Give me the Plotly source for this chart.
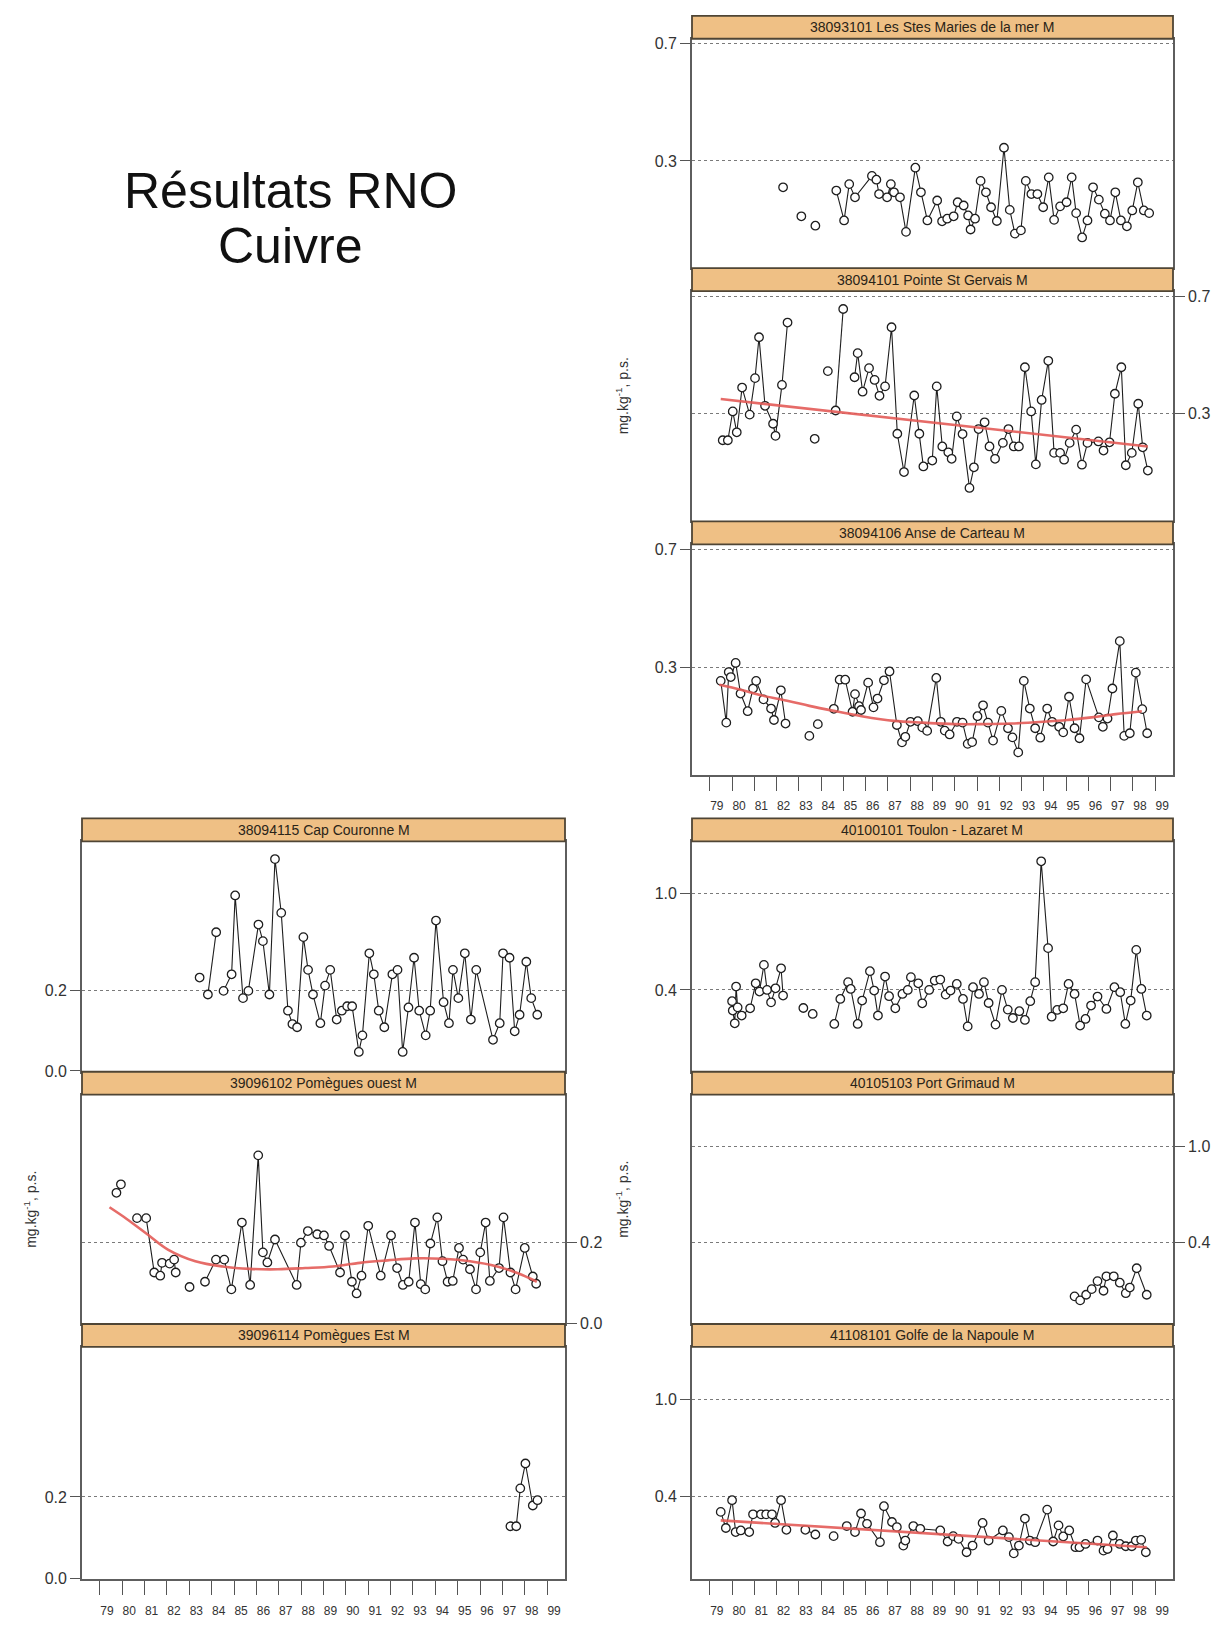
import plotly.graph_objects as go

W, H = 1226, 1628
FONT = "Liberation Sans, Arial, sans-serif"

# ---------------------------------------------------------------- axes data
YEAR_TICKS = list(range(79, 100))
YEAR_LABELS = [str(y) for y in YEAR_TICKS]
X_RANGE = [78.2, 99.8]

# Copper in mussels (mg.kg-1 dry weight); None marks a break in the series
stes_maries_years = [82.29, None, 83.11, None, 83.74, None,
                     84.68, 85.03, 85.26, 85.52, 86.28, 86.48, 86.60, 86.96, 87.13, 87.27,
                     87.54, 87.81, 88.23, 88.48, 88.77, 89.21, 89.43, 89.66, 89.95, 90.13,
                     90.40, 90.60, 90.71, 90.91, 91.16, 91.40, 91.63, 91.89, 92.21, 92.47,
                     92.70, 92.97, 93.19, 93.44, 93.71, 93.97, 94.22, 94.46, 94.73, 95.02,
                     95.25, 95.45, 95.72, 95.96, 96.21, 96.47, 96.74, 96.97, 97.21, 97.46,
                     97.73, 97.97, 98.22, 98.49, 98.73]
stes_maries_cu = [0.210, None, 0.111, None, 0.079, None,
                  0.199, 0.097, 0.221, 0.176, 0.249, 0.236, 0.187, 0.176, 0.221, 0.193,
                  0.176, 0.058, 0.277, 0.193, 0.097, 0.165, 0.094, 0.103, 0.111, 0.159,
                  0.148, 0.114, 0.066, 0.103, 0.232, 0.193, 0.142, 0.095, 0.345, 0.133,
                  0.052, 0.063, 0.232, 0.187, 0.187, 0.142, 0.244, 0.099, 0.145, 0.159,
                  0.244, 0.122, 0.039, 0.097, 0.210, 0.168, 0.120, 0.097, 0.193, 0.097,
                  0.077, 0.131, 0.227, 0.131, 0.122]

gervais_years = [79.58, 79.81, 80.03, 80.21, 80.45, 80.79, 81.03, 81.21, 81.48, 81.84,
                 81.95, 82.24, 82.49, None, 83.71, None, 84.30, None, 84.65, 84.99, None,
                 85.50, 85.64, 85.86, 86.15, 86.40, 86.62, 86.87, 87.16, 87.42, 87.72,
                 88.18, 88.41, 88.59, 88.99, 89.19, 89.44, 89.71, 89.86, 90.09, 90.35,
                 90.66, 90.86, 91.07, 91.34, 91.56, 91.81, 92.16, 92.41, 92.65, 92.88,
                 93.15, 93.43, 93.64, 93.90, 94.20, 94.46, 94.73, 94.91, 95.16, 95.45,
                 95.71, 95.96, 96.45, 96.68, 96.95, 97.19, 97.48, 97.68, 97.95, 98.24,
                 98.44, 98.67]
gervais_cu = [0.210, 0.210, 0.308, 0.237, 0.389, 0.297, 0.421, 0.560, 0.327, 0.266,
              0.225, 0.398, 0.610, None, 0.215, None, 0.445, None, 0.311, 0.656, None,
              0.424, 0.506, 0.375, 0.455, 0.415, 0.361, 0.393, 0.594, 0.232, 0.102,
              0.362, 0.232, 0.121, 0.141, 0.393, 0.189, 0.169, 0.147, 0.291, 0.231,
              0.048, 0.118, 0.248, 0.271, 0.189, 0.147, 0.201, 0.248, 0.189, 0.189,
              0.458, 0.308, 0.128, 0.347, 0.480, 0.167, 0.167, 0.144, 0.201, 0.246,
              0.127, 0.201, 0.206, 0.175, 0.203, 0.368, 0.458, 0.125, 0.167, 0.334,
              0.186, 0.107]
gervais_trend_years = [79.49, 98.67]
gervais_trend_cu = [0.350, 0.189]

carteau_years = [79.49, 79.74, 79.85, 79.94, 80.16, 80.38, 80.70, 80.94, 81.08, 81.41,
                 81.75, 81.88, 82.19, 82.40, None, 83.47, None, 83.85, None,
                 84.57, 84.83, 85.08, 85.41, 85.52, 85.70, 85.79, 86.11, 86.35, 86.53,
                 86.82, 87.07, 87.40, 87.63, 87.78, 88.01, 88.34, 88.54, 88.76, 89.17,
                 89.37, 89.55, 89.77, 90.10, 90.35, 90.58, 90.78, 91.02, 91.27, 91.49,
                 91.72, 92.09, 92.39, 92.59, 92.85, 93.10, 93.37, 93.61, 93.84, 94.15,
                 94.37, 94.69, 94.87, 95.13, 95.38, 95.60, 95.90, 96.47, 96.65, 96.86,
                 97.08, 97.41, 97.61, 97.86, 98.13, 98.42, 98.64]
carteau_cu = [0.253, 0.111, 0.283, 0.266, 0.314, 0.210, 0.150, 0.227, 0.253, 0.190,
              0.159, 0.120, 0.221, 0.108, None, 0.066, None, 0.106, None,
              0.158, 0.257, 0.257, 0.148, 0.208, 0.167, 0.154, 0.247, 0.163, 0.193,
              0.255, 0.285, 0.103, 0.044, 0.063, 0.114, 0.116, 0.095, 0.083, 0.263,
              0.114, 0.084, 0.071, 0.114, 0.111, 0.039, 0.045, 0.133, 0.170, 0.111,
              0.050, 0.151, 0.092, 0.061, 0.010, 0.253, 0.159, 0.092, 0.060, 0.159,
              0.114, 0.097, 0.078, 0.199, 0.092, 0.058, 0.258, 0.129, 0.097, 0.125,
              0.227, 0.388, 0.066, 0.075, 0.281, 0.157, 0.075]
carteau_trend_years = [79.43, 80.39, 81.30, 82.57, 83.47, 84.56, 85.82, 87.27, 88.54,
                       89.99, 91.25, 92.52, 93.97, 95.05, 96.14, 97.23, 98.40]
carteau_trend_cu = [0.240, 0.223, 0.204, 0.184, 0.168, 0.151, 0.133, 0.117, 0.111,
                    0.106, 0.106, 0.108, 0.114, 0.120, 0.129, 0.140, 0.150]

couronne_years = [83.46, None, 83.83, 84.20, None,
                  84.53, 84.89, 85.05, 85.40, 85.64, 86.09, 86.29, 86.58, 86.83, 87.11,
                  87.41, 87.61, 87.82, 88.10, 88.31, 88.53, 88.86, 89.07, 89.30, 89.59,
                  89.82, 90.06, 90.28, 90.58, 90.74, 91.05, 91.25, 91.47, 91.72, 92.08,
                  92.31, 92.54, 92.80, 93.05, 93.28, 93.57, 93.77, 94.03, 94.37, 94.61,
                  94.79, 95.03, 95.32, 95.59, 95.83, 96.58, 96.88, 97.03, 97.32, 97.55,
                  97.77, 98.07, 98.29, 98.56]
couronne_cu = [0.231, None, 0.189, 0.343, None,
               0.198, 0.239, 0.434, 0.180, 0.198, 0.362, 0.321, 0.189, 0.524, 0.391,
               0.149, 0.116, 0.108, 0.331, 0.250, 0.189, 0.118, 0.211, 0.250, 0.127,
               0.149, 0.160, 0.160, 0.047, 0.088, 0.291, 0.239, 0.149, 0.108, 0.239,
               0.250, 0.047, 0.157, 0.280, 0.149, 0.088, 0.149, 0.372, 0.170, 0.118,
               0.250, 0.180, 0.291, 0.127, 0.250, 0.077, 0.118, 0.291, 0.280, 0.098,
               0.139, 0.270, 0.180, 0.139]

pomegues_o_years = [79.74, 79.94, None,
                    80.66, 81.07, 81.43, 81.70, 81.78, 82.12, 82.32, 82.39, None,
                    83.01, None,
                    83.70, 84.19, 84.56, 84.88, 85.35, 85.72, 86.08, 86.29, 86.49, 86.83,
                    87.80, 87.99, 88.30, 88.72, 89.02, 89.25, 89.74, 89.96, 90.27, 90.48,
                    90.70, 91.00, 91.56, 92.02, 92.29, 92.55, 92.81, 93.09, 93.35, 93.55,
                    93.78, 94.09, 94.32, 94.55, 94.78, 95.06, 95.24, 95.55, 95.82, 96.01,
                    96.25, 96.44, 96.85, 97.05, 97.36, 97.59, 98.00, 98.36, 98.51]
pomegues_o_cu = [0.324, 0.345, None,
                 0.261, 0.261, 0.126, 0.118, 0.150, 0.148, 0.158, 0.126, None,
                 0.090, None,
                 0.103, 0.158, 0.158, 0.084, 0.250, 0.095, 0.417, 0.176, 0.151, 0.208,
                 0.095, 0.200, 0.229, 0.221, 0.218, 0.192, 0.126, 0.218, 0.103, 0.074,
                 0.118, 0.242, 0.118, 0.218, 0.137, 0.095, 0.103, 0.250, 0.097, 0.084,
                 0.198, 0.263, 0.154, 0.103, 0.105, 0.187, 0.158, 0.134, 0.084, 0.176,
                 0.250, 0.105, 0.137, 0.263, 0.126, 0.084, 0.187, 0.116, 0.098]
pomegues_o_trend_years = [79.43, 80.20, 81.12, 82.04, 83.27, 84.49, 85.72, 86.95, 88.18,
                          89.41, 90.63, 91.86, 93.09, 94.32, 95.55, 96.77, 97.70, 98.54]
pomegues_o_trend_cu = [0.288, 0.259, 0.221, 0.183, 0.154, 0.141, 0.135, 0.134, 0.137,
                       0.141, 0.150, 0.156, 0.161, 0.160, 0.154, 0.141, 0.124, 0.103]

pomegues_e_years = [97.36, 97.62, 97.80, 98.03, 98.36, 98.57]
pomegues_e_cu = [0.128, 0.128, 0.221, 0.282, 0.179, 0.192]

toulon_years = [80.00, 80.03, 80.12, 80.18, 80.25, 80.43, 80.81, 81.06, 81.23, 81.43,
                81.57, 81.75, 81.95, 82.20, 82.29, None, 83.20, None, 83.62, None,
                84.59, 84.86, 85.21, 85.33, 85.64, 85.84, 86.19, 86.38, 86.55, 86.87,
                87.05, 87.33, 87.65, 87.89, 88.03, 88.36, 88.54, 88.85, 89.10, 89.35,
                89.59, 89.81, 90.09, 90.37, 90.58, 90.82, 91.09, 91.31, 91.52, 91.83,
                92.12, 92.38, 92.61, 92.90, 93.15, 93.39, 93.61, 93.88, 94.19, 94.35,
                94.60, 94.87, 95.11, 95.38, 95.63, 95.87, 96.12, 96.41, 96.81, 97.17,
                97.43, 97.66, 97.90, 98.15, 98.38, 98.62]
toulon_cu = [0.330, 0.272, 0.193, 0.421, 0.292, 0.241, 0.286, 0.441, 0.390, 0.555,
             0.400, 0.323, 0.410, 0.534, 0.365, None, 0.288, None, 0.251, None,
             0.189, 0.344, 0.448, 0.406, 0.189, 0.334, 0.516, 0.396, 0.241, 0.483,
             0.361, 0.286, 0.375, 0.400, 0.479, 0.441, 0.317, 0.400, 0.458, 0.464,
             0.371, 0.396, 0.437, 0.344, 0.174, 0.417, 0.375, 0.448, 0.319, 0.185,
             0.400, 0.278, 0.226, 0.268, 0.214, 0.330, 0.448, 1.197, 0.659, 0.234,
             0.276, 0.286, 0.437, 0.375, 0.179, 0.220, 0.303, 0.359, 0.282, 0.417,
             0.386, 0.189, 0.334, 0.648, 0.406, 0.241]

grimaud_years = [95.38, 95.63, 95.90, 96.15, 96.41, 96.68, 96.81, 97.14, 97.41, 97.68,
                 97.86, 98.17, 98.62]
grimaud_cu = [0.065, 0.040, 0.075, 0.110, 0.160, 0.100, 0.190, 0.190, 0.150, 0.085,
              0.120, 0.240, 0.075]

napoule_years = [79.49, 79.72, 80.00, 80.16, 80.39, 80.77, 80.94, 81.30, 81.53, 81.79,
                 81.93, 82.20, 82.44, None, 83.29, 83.74, None, 84.56, None,
                 85.15, 85.52, 85.79, 86.06, 86.64, 86.82, 87.18, 87.40, 87.69, 87.78,
                 88.14, 88.45, 89.35, 89.68, 89.93, 90.17, 90.53, 90.80, 91.25, 91.52,
                 92.16, 92.43, 92.65, 92.88, 93.15, 93.37, 93.61, 94.15, 94.42, 94.66,
                 94.87, 95.14, 95.42, 95.60, 95.87, 96.41, 96.68, 96.86, 97.10, 97.41,
                 97.68, 97.95, 98.13, 98.37, 98.58]
napoule_cu = [0.307, 0.208, 0.379, 0.183, 0.193, 0.183, 0.292, 0.292, 0.292, 0.292,
              0.239, 0.379, 0.197, None, 0.197, 0.168, None, 0.158, None,
              0.220, 0.183, 0.297, 0.234, 0.121, 0.342, 0.245, 0.214, 0.100, 0.131,
              0.220, 0.203, 0.193, 0.125, 0.158, 0.141, 0.059, 0.100, 0.239, 0.131,
              0.193, 0.152, 0.052, 0.100, 0.266, 0.131, 0.121, 0.321, 0.125, 0.224,
              0.156, 0.193, 0.090, 0.090, 0.110, 0.131, 0.069, 0.079, 0.162, 0.110,
              0.096, 0.096, 0.131, 0.135, 0.059]
napoule_trend_years = [79.49, 98.62]
napoule_trend_cu = [0.255, 0.090]

# ---------------------------------------------------------------- panels
STRIP_H = 23
TOP_RIGHT = dict(x0=692, x1=1173, tops=[13, 267, 522], bottom=777,
                 yrange=[-0.066, 0.717], yticks=[0.3, 0.7], ylabels=["0.3", "0.7"])
LEFT = dict(x0=82, x1=565, tops=[821, 1076, 1330], bottom=1587,
            yrange=[-0.002, 0.568], yticks=[0.0, 0.2], ylabels=["0.0", "0.2"])
BOTTOM_RIGHT = dict(x0=692, x1=1173, tops=[821, 1076, 1330], bottom=1587,
                    yrange=[-0.107, 1.321], yticks=[0.4, 1.0], ylabels=["0.4", "1.0"])

panels = [
    (TOP_RIGHT, 0, "38093101 Les Stes Maries de la mer M",
     stes_maries_years, stes_maries_cu, None, None),
    (TOP_RIGHT, 1, "38094101 Pointe St Gervais M",
     gervais_years, gervais_cu, gervais_trend_years, gervais_trend_cu),
    (TOP_RIGHT, 2, "38094106 Anse de Carteau M",
     carteau_years, carteau_cu, carteau_trend_years, carteau_trend_cu),
    (LEFT, 0, "38094115 Cap Couronne M", couronne_years, couronne_cu, None, None),
    (LEFT, 1, "39096102 Pomègues ouest M",
     pomegues_o_years, pomegues_o_cu, pomegues_o_trend_years, pomegues_o_trend_cu),
    (LEFT, 2, "39096114 Pomègues Est M", pomegues_e_years, pomegues_e_cu, None, None),
    (BOTTOM_RIGHT, 0, "40100101 Toulon - Lazaret M", toulon_years, toulon_cu, None, None),
    (BOTTOM_RIGHT, 1, "40105103 Port Grimaud M", grimaud_years, grimaud_cu, None, None),
    (BOTTOM_RIGHT, 2, "41108101 Golfe de la Napoule M",
     napoule_years, napoule_cu, napoule_trend_years, napoule_trend_cu),
]

BORDER = "#5e5e5e"
STRIP_FILL = "#EFC085"
STRIP_LINE = "#4f4535"
TREND = "rgb(228, 92, 88)"


def px_x(v):
    return v / W


def px_y(v):
    return 1 - v / H


fig = go.Figure()
shapes, annotations = [], []
layout_axes = {}

for i, (grp, row, name, xs, ys, tx, ty) in enumerate(panels, start=1):
    top = grp["tops"][row]
    bottom = grp["tops"][row + 1] if row < 2 else grp["bottom"]
    plot_top = top + STRIP_H
    xa = "xaxis" if i == 1 else f"xaxis{i}"
    ya = "yaxis" if i == 1 else f"yaxis{i}"
    xref = "x" if i == 1 else f"x{i}"
    yref = "y" if i == 1 else f"y{i}"
    is_bottom = row == 2

    xaxis = dict(
        domain=[px_x(grp["x0"]), px_x(grp["x1"])], anchor=yref, range=X_RANGE,
        showline=True, mirror=True, linecolor=BORDER, linewidth=1.8,
        showgrid=False, zeroline=False, fixedrange=True,
    )
    if is_bottom:
        xaxis.update(tickmode="array", tickvals=YEAR_TICKS, ticktext=YEAR_LABELS,
                     ticks="outside", ticklen=14, tickwidth=1.4, tickcolor="#555",
                     ticklabelshift=7, ticklabelstandoff=5,
                     tickfont=dict(family=FONT, size=12, color="#333"))
    else:
        xaxis.update(showticklabels=False, ticks="")
    layout_axes[xa] = xaxis

    layout_axes[ya] = dict(
        domain=[px_y(bottom), px_y(plot_top)], anchor=xref, range=grp["yrange"],
        side="right" if row == 1 else "left",
        showline=True, mirror=True, linecolor=BORDER, linewidth=1.8,
        showgrid=True, gridcolor="#7a7a7a", griddash="dot", gridwidth=1.2,
        zeroline=False, fixedrange=True,
        tickmode="array", tickvals=grp["yticks"], ticktext=grp["ylabels"],
        ticks="outside", ticklen=10, tickwidth=1.4, tickcolor="#555",
        tickfont=dict(family=FONT, size=16, color="#333"),
    )

    # strip header
    shapes.append(dict(type="rect", xref="paper", yref="paper",
                       x0=px_x(grp["x0"]), x1=px_x(grp["x1"]),
                       y0=px_y(plot_top), y1=px_y(top),
                       fillcolor=STRIP_FILL, line=dict(color=STRIP_LINE, width=1.8),
                       layer="above"))
    annotations.append(dict(text=name, xref="paper", yref="paper",
                            x=px_x((grp["x0"] + grp["x1"]) / 2), y=px_y(top + STRIP_H / 2),
                            xanchor="center", yanchor="middle", showarrow=False,
                            font=dict(family=FONT, size=14, color="#2a2418")))

    # observed series: open circles joined by thin lines that stop at the circles
    fig.add_trace(go.Scatter(x=xs, y=ys, xaxis=xref, yaxis=yref, mode="lines+markers",
                             line=dict(color="#1e1e1e", width=1.1),
                             marker=dict(symbol="circle", size=8.5, color="white",
                                         line=dict(width=1.3, color="#1e1e1e")),
                             connectgaps=False, showlegend=False))
    if tx is not None:
        fig.add_trace(go.Scatter(x=tx, y=ty, xaxis=xref, yaxis=yref, mode="lines",
                                 line=dict(color=TREND, width=2.6, shape="spline"),
                                 opacity=0.9, hoverinfo="skip", showlegend=False))

# y-axis titles
YTITLE = "mg.kg<sup>-1</sup>, p.s."
for (x, y) in [(622, 396), (30, 1215), (622, 1205)]:
    annotations.append(dict(text=YTITLE, xref="paper", yref="paper", x=px_x(x), y=px_y(y),
                            xanchor="center", yanchor="middle", textangle=-90,
                            showarrow=False, font=dict(family=FONT, size=14, color="#333")))

# page title
annotations.append(dict(text="Résultats RNO", xref="paper", yref="paper",
                        x=px_x(290), y=px_y(189), xanchor="center", yanchor="middle",
                        showarrow=False, font=dict(family=FONT, size=50, color="#111")))
annotations.append(dict(text="Cuivre", xref="paper", yref="paper",
                        x=px_x(290), y=px_y(245), xanchor="center", yanchor="middle",
                        showarrow=False, font=dict(family=FONT, size=50, color="#111")))

fig.update_layout(
    width=W, height=H, autosize=False,
    margin=dict(l=0, r=0, t=0, b=0),
    paper_bgcolor="white", plot_bgcolor="white",
    showlegend=False, shapes=shapes, annotations=annotations,
    font=dict(family=FONT),
    **layout_axes,
)

fig.write_html("out.html", include_plotlyjs=True, config={"displayModeBar": False})
